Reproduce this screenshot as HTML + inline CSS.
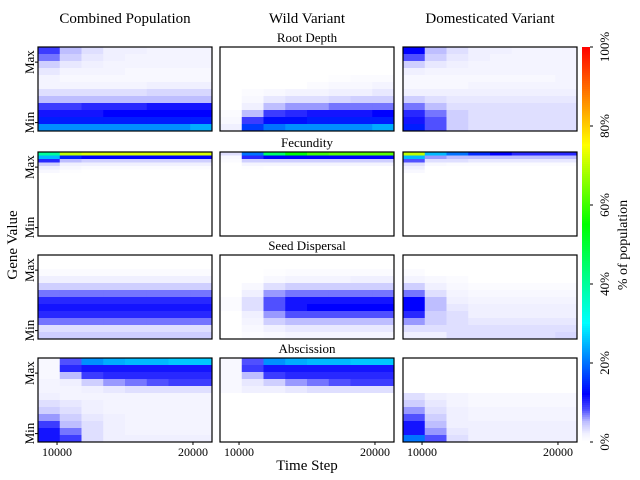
<!DOCTYPE html>
<html><head><meta charset="utf-8"><style>
html,body{margin:0;padding:0;background:#fff;}
svg{display:block;font-family:"Liberation Serif",serif;}
</style></head><body>
<svg id="c" width="640" height="480" viewBox="0 0 640 480"></svg>
<script>
// ---- data ----
const columns = ["Combined Population","Wild Variant","Domesticated Variant"];
const traits = ["Root Depth","Fecundity","Seed Dispersal","Abscission"];
const timeStart = 8600, timeStep = 1600;
const xTicks = [10000,20000];
const cbTicks = [0,20,40,60,80,100];
const binsPerTrait = [12,24,12,12];
// values in % of population; rows Max->Min, columns = time bins
const rootCombined = [[9,5,3,2,2,1.5,1.5,1.5],[7,4,2.5,2,1.5,1.5,1.5,1.5],[4,2.5,2,1.5,1.5,1.5,1.5,1.5],[2.5,1.5,1.5,1.5,1,1,1,1],[1.5,1,1,1,1,1,1,1],[1.5,1.5,1.5,1.5,1.5,2,2,2],[3,3,3,3,3,3.5,3.5,3.5],[5,5,5,5,5,5,5,5],[9,9,10,10,10,11,11,11],[11,11,11,12,12,12,12,12],[14,14,14,14,14,14,14,14],[22,22,22,22,22,22,22,24]];
const rootWild = [[0,0,0,0,0,0,0,0],[0,0,0,0,0,0,0,0],[0,0,0,0,0,0,0,0],[0,0,0,0,0,0,0,0],[0,0,0,0,0,0.3,0.5,0.5],[0,0,0,0,0.5,1,1,1.5],[0,0.5,1,1.5,1.5,2,2,2.5],[0,1,2.5,3,3,3.5,4,4],[0,2,5,6,6,7,7,7],[0.5,5,9,10,11,11,11,12],[1,9,13,13,14,14,14,14],[2,16,20,22,22,22,22,24]];
const rootDom = [[12,5,3,2,2,1.5,1.5,1.5],[8,4,2.5,2,1.5,1.5,1.5,1.5],[4,2.5,2,1.5,1.5,1.5,1.5,1.5],[2,1.5,1.5,1.5,1.5,1.5,1.5,1.5],[1,1,1,1,1,1,1,1.5],[1,1,1,1.5,1.5,1.5,1.5,1.5],[2,2,2,2,2,2,2,2],[4,3,2.5,2.5,2.5,2.5,2.5,2.5],[7,5,3,3,3,3,3,3],[10,7,4,3,3,3,3,3],[11,8,4,3,3,3,3,3],[14,8,4,3,3,3,3,3]];
const fecCombined = [[40,70,72,72,72,72,72,72],[25,14,12,12,12,12,12,12],[10,5,4,4,4,4,4,4],[4,2,2,2,2,2,2,2],[2,1,0.5,0.5,0.5,0.5,0.5,0.5],[1,0.3,0,0,0,0,0,0]];
const fecWild = [[3,20,45,55,60,62,62,62],[1,10,12,12,12,12,12,12],[0.5,4,4,4,4,4,4,4],[0,1.5,1.5,1.5,1.5,1.5,1.5,1.5],[0,0.3,0,0,0,0,0,0]];
const fecDom = [[70,25,20,15,12,10,10,10],[25,6,5,5,5,5,5,5],[8,3,3,2.5,2.5,2.5,2.5,2.5],[3,1,0.5,0.5,0.5,0.5,0.5,0.5],[2,0,0,0,0,0,0,0],[1,0,0,0,0,0,0,0]];
const seedCombined = [[0,0,0,0,0,0,0,0],[0,0,0,0,0,0,0,0],[0.5,0.5,0.5,0.5,0.5,0.5,0.5,0.5],[2,2,2,2,2,2,2,2],[4,4,4,4,4,4,4,4],[7,7,7,7,7,7,7,7],[10,10,10,10,10,10,10,10],[11,11,11,11,11,11,11,11],[10,10,10,10,10,10,10,10],[7,7,7,7,7,7,7,7],[3,3,3,3,3,3,3,3],[4,4,4,4,4,4,4,4]];
const seedWild = [[0,0,0,0,0,0,0,0],[0,0,0,0,0,0,0,0],[0,0,0.3,0.5,0.5,0.5,0.5,0.5],[0,0,1,1.5,1.5,1.5,2,2],[0,1,3,4,4,4,4,4],[0,2,6,7,7,7,7,7],[0.5,3,8,11,11,11,11,11],[0.5,3,8,11,12,12,12,12],[0,2,6,8,8,8,8,8],[0,1.5,4,5,5,5,5,5],[0,1,2,2.5,2.5,2.5,2.5,2.5],[0,0.5,1,1.5,1.5,1.5,1.5,1.5]];
const seedDom = [[0,0,0,0,0,0,0,0],[0,0,0,0,0,0,0,0],[0.5,0,0,0,0,0,0,0],[1.5,1,0.5,0,0,0,0,0],[4,2,1,0.5,0.5,0.5,0.5,0.5],[7,3,1.5,1,1,1,1,1],[12,5,2,1.5,1.5,1.5,1.5,1.5],[12,5,2.5,2,2,2,2,2],[10,4,3,2,2,2,2,2],[6,4,3,2.5,2.5,2.5,2.5,2.5],[3,3,3,3,3,3,3,3],[2,2,3,3,3,3,3,3.5]];
const absCombined = [[1,8,22,24,25,25,26,26],[1,10,11,11,11,11,11,11],[1,5,9,10,10,10,10,10],[1.5,2,4,6,7,8,9,9],[1.5,1.5,2,2.5,3,3,3,3],[2,1.5,1.5,1.5,1.5,1.5,1.5,1.5],[3,2.5,2,1.5,1.5,1.5,1.5,1.5],[4,3,2,1.5,1.5,1.5,1.5,1.5],[6,4,2.5,2,1.5,1.5,1.5,1.5],[9,5,3,2,1.5,1.5,1.5,1.5],[11,7,3,2,1.5,1.5,1.5,1.5],[11,9,3,2,2,2,2,2]];
const absWild = [[1,8,22,24,25,25,26,26],[1,9,11,11,11,11,11,11],[1,5,9,10,10,10,10,10],[1,2.5,4,6,7,8,9,9],[1,2,2,2.5,3,3,3,3]];
const absDom = [[0,0,0,0,0,0,0,0],[0,0,0,0,0,0,0,0],[0,0,0,0,0,0,0,0],[0,0,0,0,0,0,0,0],[0,0,0,0,0,0,0,0],[3,2,1.5,1,1,1,1,1],[4,2.5,1.5,1,1,1,1,1],[6,3,2,1.5,1.5,1.5,1.5,1.5],[8,4,2,1.5,1.5,1.5,1.5,1.5],[11,5,2,2,2,2,2,2],[11,6,2.5,2,2,2,2,2],[20,8,3,2,2,2,2,2]];
const panelData = [[rootCombined,rootWild,rootDom],[fecCombined,fecWild,fecDom],[seedCombined,seedWild,seedDom],[absCombined,absWild,absDom]];

// ---- layout ----
const NS="http://www.w3.org/2000/svg";
const svg=document.getElementById('c');
const colX=[38,220,403], panelW=174, rowY=[47,152,255,358], panelH=84;
const cmapStops=[[0,[255,255,255]],[2,[240,240,255]],[5,[190,190,255]],[8,[80,80,255]],[12,[0,0,255]],[22,[0,144,255]],[30,[0,255,255]],[55,[0,255,0]],[75,[255,255,0]],[100,[255,0,0]]];
function cmap(v){
  if(v<=0) return 'rgb(255,255,255)';
  for(let i=1;i<cmapStops.length;i++){
    const [a,ca]=cmapStops[i-1],[b,cb]=cmapStops[i];
    if(v<=b){const t=(v-a)/(b-a);return 'rgb('+ca.map((c,k)=>Math.round(c+(cb[k]-c)*t)).join(',')+')';}
  }
  return 'rgb(255,0,0)';
}
function el(tag,attrs,parent){const e=document.createElementNS(NS,tag);for(const k in attrs)e.setAttribute(k,attrs[k]);(parent||svg).appendChild(e);return e;}
function txt(s,attrs,parent){const e=el('text',attrs,parent);e.textContent=s;return e;}
const tMax=timeStart+timeStep*8;
function xScale(ci,t){return colX[ci]+(t-timeStart)/(tMax-timeStart)*panelW;}
function yScale(ri,bin,n){return rowY[ri]+bin/n*panelH;}

for(let ri=0;ri<4;ri++){
  const n=binsPerTrait[ri];
  for(let ci=0;ci<3;ci++){
    const g=el('g',{});
    
    
    const d=panelData[ri][ci];
    for(let b=0;b<n;b++){
      const row=d[b]||[];
      for(let j=0;j<8;j++){
        const v=row[j]||0;
        const x0=xScale(ci,timeStart+j*timeStep),x1=xScale(ci,timeStart+(j+1)*timeStep);
        const y0=yScale(ri,b,n),y1=yScale(ri,b+1,n);
        const r=el('rect',{x:x0,y:y0,width:x1-x0+0.4,height:y1-y0+0.4,fill:cmap(v)},g);
        
        
      }
    }
    const fr=el('rect',{x:colX[ci],y:rowY[ri],width:panelW,height:panelH,fill:'none',stroke:'#000','stroke-width':1.2},g);
    
    
    if(ci===0){
      [['Max',0.18],['Min',0.9]].forEach(([lab,f])=>{
        const y=rowY[ri]+f*panelH;
        el('line',{x1:colX[0]-3,x2:colX[0],y1:y,y2:y,stroke:'#000'});
        const t=txt(lab,{x:0,y:0,'font-size':13,'text-anchor':'middle',transform:'translate(34,'+y+') rotate(-90)'});
        
        
      });
    }
    if(ri===3){
      xTicks.forEach(tv=>{
        const x=xScale(ci,tv);
        el('line',{x1:x,x2:x,y1:rowY[3]+panelH,y2:rowY[3]+panelH+3,stroke:'#000'});
        const t=txt(String(tv),{x:x,y:456,'font-size':12,'text-anchor':'middle'});
        
        
      });
    }
  }
  const tt=txt(traits[ri],{x:307,y:rowY[ri]-5,'font-size':13,'text-anchor':'middle'});
  
  
}
columns.forEach((c,ci)=>{
  const t=txt(c,{x:colX[ci]+panelW/2,y:23,'font-size':15,'text-anchor':'middle'});
  
  
});
const yl=txt('Gene Value',{x:0,y:0,'font-size':15,'text-anchor':'middle',transform:'translate(17,245) rotate(-90)'});


const xl=txt('Time Step',{x:307,y:470,'font-size':15,'text-anchor':'middle'});



// colorbar
const cbX=582,cbW=8,cbTop=47,cbBot=442;
const cb=el('g',{});


for(let i=0;i<200;i++){
  const v=i/2;
  const y0=cbBot-(i+1)/200*(cbBot-cbTop);
  el('rect',{x:cbX,y:y0,width:cbW,height:(cbBot-cbTop)/200+0.5,fill:cmap(v)},cb);
}
cbTicks.forEach(v=>{
  const y=cbBot-v/100*(cbBot-cbTop);
  el('line',{x1:cbX+cbW,x2:cbX+cbW+3,y1:y,y2:y,stroke:'#000'},cb);
  const t=txt(v+'%',{x:0,y:0,'font-size':13,'text-anchor':'middle',transform:'translate(609,'+y+') rotate(-90)'},cb);
  
  
});
const cl=txt('% of population',{x:0,y:0,'font-size':14,'text-anchor':'middle',transform:'translate(627,245) rotate(-90)'});


</script>
</body></html>
